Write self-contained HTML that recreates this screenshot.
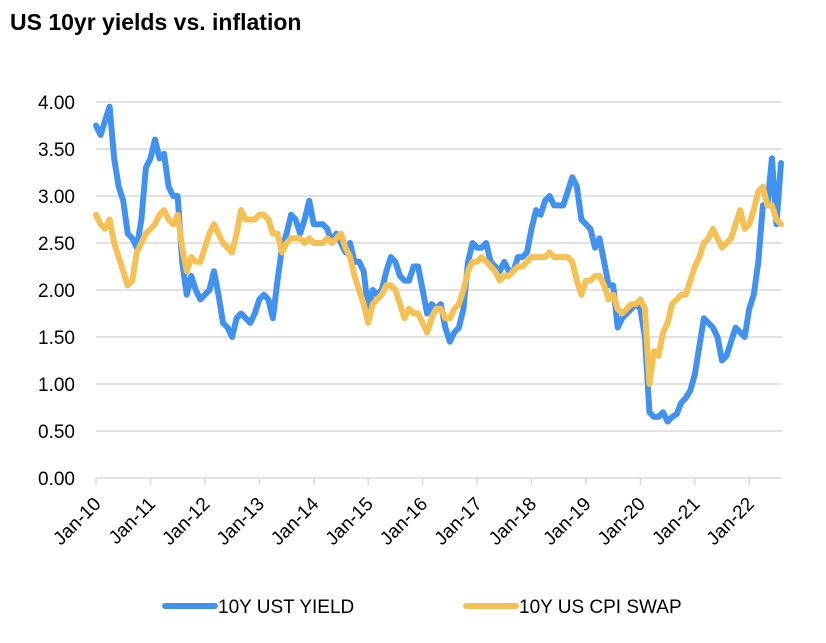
<!DOCTYPE html>
<html><head><meta charset="utf-8">
<style>
body{margin:0;background:#fff;width:826px;height:638px;overflow:hidden;font-family:"Liberation Sans",Arial,sans-serif}
</style></head>
<body>
<svg id="chart" width="826" height="638" xmlns="http://www.w3.org/2000/svg">
<text x="10" y="30" font-size="23" font-weight="bold" fill="#000">US 10yr yields vs. inflation</text>
<g id="grid"></g><g id="yaxis"></g><g id="xaxis"></g><g id="series"></g>
<g>
<line x1="165" y1="606" x2="215" y2="606" stroke="#4192ee" stroke-width="6" stroke-linecap="round"/>
<text x="218" y="613" font-size="19" fill="#000">10Y UST YIELD</text>
<line x1="466" y1="606" x2="516" y2="606" stroke="#f5c054" stroke-width="6" stroke-linecap="round"/>
<text x="519" y="613" font-size="19" fill="#000">10Y US CPI SWAP</text>
</g>
</svg>
<script>
const yTicks=[0,0.5,1,1.5,2,2.5,3,3.5,4];
const yTickLabels=["0.00","0.50","1.00","1.50","2.00","2.50","3.00","3.50","4.00"];
const xTickLabels=["Jan-10","Jan-11","Jan-12","Jan-13","Jan-14","Jan-15","Jan-16","Jan-17","Jan-18","Jan-19","Jan-20","Jan-21","Jan-22"];
const ustYield=[3.75,3.65,3.8,3.95,3.4,3.1,2.95,2.6,2.55,2.45,2.75,3.3,
3.4,3.6,3.4,3.45,3.1,3.0,3.0,2.3,1.95,2.15,2.0,1.9,
1.95,2.0,2.2,1.95,1.65,1.6,1.5,1.7,1.75,1.7,1.65,1.75,
1.9,1.95,1.9,1.7,2.1,2.45,2.6,2.8,2.75,2.6,2.75,2.95,
2.7,2.7,2.7,2.65,2.5,2.6,2.5,2.4,2.5,2.3,2.3,2.2,
1.8,2.0,1.95,2.0,2.2,2.35,2.3,2.15,2.1,2.1,2.25,2.25,
2.0,1.75,1.85,1.8,1.85,1.6,1.45,1.55,1.6,1.8,2.3,2.5,
2.45,2.45,2.5,2.3,2.25,2.2,2.3,2.2,2.2,2.35,2.35,2.4,
2.65,2.85,2.8,2.95,3.0,2.9,2.9,2.9,3.05,3.2,3.1,2.75,
2.7,2.65,2.45,2.55,2.3,2.05,2.05,1.6,1.7,1.75,1.8,1.85,
1.8,1.5,0.7,0.65,0.65,0.7,0.6,0.65,0.68,0.8,0.85,0.93,
1.1,1.4,1.7,1.65,1.6,1.5,1.25,1.3,1.45,1.6,1.55,1.5,
1.8,1.95,2.3,2.9,2.9,3.4,2.7,3.35];
const cpiSwap=[2.8,2.7,2.65,2.75,2.5,2.35,2.2,2.05,2.1,2.4,2.5,2.6,
2.65,2.7,2.8,2.85,2.75,2.7,2.8,2.45,2.2,2.35,2.3,2.3,
2.45,2.6,2.7,2.6,2.5,2.45,2.4,2.6,2.85,2.75,2.75,2.75,
2.8,2.8,2.75,2.6,2.6,2.4,2.5,2.55,2.55,2.55,2.5,2.55,
2.5,2.5,2.5,2.55,2.5,2.55,2.6,2.45,2.35,2.15,2.0,1.85,
1.65,1.85,1.9,1.95,2.05,2.05,2.0,1.85,1.7,1.8,1.75,1.75,
1.65,1.55,1.7,1.8,1.8,1.7,1.7,1.8,1.85,2.0,2.2,2.3,
2.3,2.35,2.3,2.25,2.2,2.1,2.15,2.15,2.2,2.25,2.25,2.3,
2.35,2.35,2.35,2.35,2.4,2.35,2.35,2.35,2.35,2.3,2.1,1.95,
2.1,2.1,2.15,2.15,2.05,1.9,1.95,1.8,1.75,1.8,1.85,1.85,
1.9,1.8,1.0,1.35,1.3,1.55,1.65,1.85,1.9,1.95,1.95,2.1,
2.25,2.35,2.5,2.55,2.65,2.55,2.45,2.5,2.55,2.7,2.85,2.65,
2.7,2.85,3.05,3.1,2.9,2.9,2.75,2.7];
const NS="http://www.w3.org/2000/svg";
const X0=96,X1=782,Y0=478,PPU=94,YW=(781-96)/(151/12);
const xScale=m=>X0+m/12*YW;
const yScale=v=>Y0-v*PPU;
const mk=(t,a,p)=>{const e=document.createElementNS(NS,t);for(const k in a)e.setAttribute(k,a[k]);p.appendChild(e);return e;};
const grid=document.getElementById('grid'),ya=document.getElementById('yaxis'),xa=document.getElementById('xaxis'),ser=document.getElementById('series');
yTicks.forEach((v,i)=>{
  if(v>0){const g=mk('line',{x1:X0,x2:X1,y1:yScale(v),y2:yScale(v),stroke:'#d9d9d9','stroke-width':1.5},grid);
  
  }
  const t=mk('text',{x:75,y:yScale(v)+7,'text-anchor':'end','font-size':19,fill:'#000'},ya);
  t.textContent=yTickLabels[i];
  
  
});
const ax=mk('line',{x1:X0,x2:X1,y1:Y0,y2:Y0,stroke:'#d9d9d9','stroke-width':1.5},xa);


xTickLabels.forEach((l,i)=>{
  const x=X0+i*YW;
  const tk=mk('line',{x1:x,x2:x,y1:Y0,y2:Y0+7,stroke:'#d9d9d9','stroke-width':1.5},xa);
  
  
  const tx=x+6,ty=Y0+27;
  const t=mk('text',{x:tx,y:ty,'text-anchor':'end','font-size':19,fill:'#000',transform:`rotate(-45 ${tx} ${ty})`},xa);
  t.textContent=l;
  
  
});
function line(d,c,n){
  const p=mk('polyline',{points:d.map((v,i)=>xScale(i)+','+yScale(v)).join(' '),fill:'none',stroke:c,'stroke-width':6,'stroke-linejoin':'round','stroke-linecap':'round'},ser);
  
  
}
line(ustYield,'#4192ee','ust-yield-line');
line(cpiSwap,'#f5c054','cpi-swap-line');
</script>
</body></html>
